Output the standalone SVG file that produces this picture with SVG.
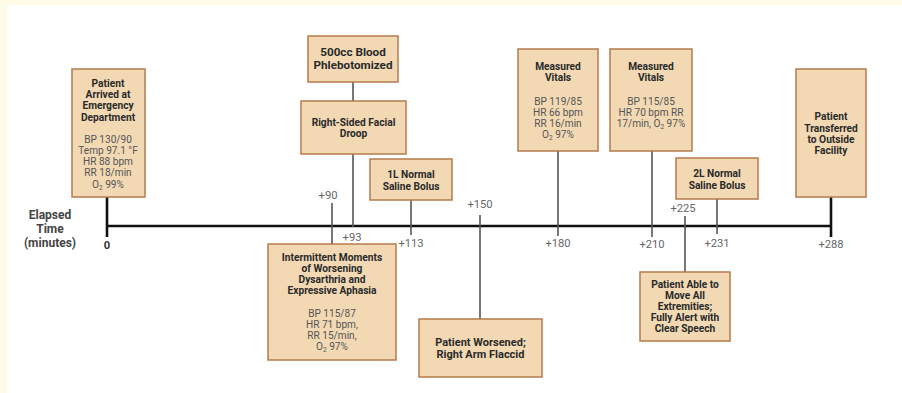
<svg xmlns="http://www.w3.org/2000/svg" width="902" height="393" viewBox="0 0 902 393">
<style>
.box{fill:#f2d9b4;stroke:#b57b4b;stroke-width:1.5}
.t{font-family:Roboto,"Liberation Sans",sans-serif;font-weight:bold;font-size:10.2px;fill:#2a2a2a;text-anchor:middle}
.big{font-size:11.7px}
.mid{font-size:11px}
.v{font-family:Roboto,"Liberation Sans",sans-serif;font-size:10.1px;fill:#555;text-anchor:middle}
.lbl{font-family:Roboto,"Liberation Sans",sans-serif;font-size:11.2px;fill:#666;text-anchor:middle}
.conn{stroke:#555;stroke-width:1.6;fill:none}
.axis{stroke:#111;stroke-width:2.6;fill:none}
.ax{font-family:Roboto,"Liberation Sans",sans-serif;font-weight:bold;font-size:12px;fill:#444;text-anchor:middle}
</style>
<rect x="0" y="0" width="902" height="393" fill="#ffffff"/>
<rect x="0" y="0" width="902" height="5" fill="#fffbe6"/>
<rect x="0" y="0" width="7" height="393" fill="#fffbe6"/>

<g id="connectors">
<line class="axis" x1="107" y1="226" x2="831" y2="226"/>
<line class="axis" x1="107" y1="197" x2="107" y2="237"/>
<line class="axis" x1="831" y1="197" x2="831" y2="237"/>
<line class="conn" x1="353" y1="82" x2="353" y2="101"/>
<line class="conn" x1="353" y1="154" x2="353" y2="227"/>
<line class="conn" x1="411" y1="200" x2="411" y2="235"/>
<line class="conn" x1="332" y1="203" x2="332" y2="244"/>
<line class="conn" x1="480" y1="215" x2="480" y2="319"/>
<line class="conn" x1="558" y1="151" x2="558" y2="236"/>
<line class="conn" x1="652" y1="151" x2="652" y2="237"/>
<line class="conn" x1="717" y1="199" x2="717" y2="234"/>
<line class="conn" x1="685" y1="216" x2="685" y2="272"/>
</g>

<g id="axis-labels">
<text class="ax" x="50" y="219">Elapsed</text>
<text class="ax" x="50" y="232.5">Time</text>
<text class="ax" x="50" y="246.5">(minutes)</text>
<text class="lbl" x="107" y="248.5" style="font-weight:bold;fill:#333">0</text>
<text class="lbl" x="328" y="199">+90</text>
<text class="lbl" x="352" y="240.5">+93</text>
<text class="lbl" x="411" y="246.5">+113</text>
<text class="lbl" x="480" y="208">+150</text>
<text class="lbl" x="558" y="247">+180</text>
<text class="lbl" x="652" y="248">+210</text>
<text class="lbl" x="683" y="212">+225</text>
<text class="lbl" x="717" y="247">+231</text>
<text class="lbl" x="831" y="248">+288</text>
</g>

<g id="n-arrived">
<rect class="box" x="72" y="69" width="73" height="128"/>
<text class="t" x="108" y="86.5">Patient</text>
<text class="t" x="108" y="97.5">Arrived at</text>
<text class="t" x="108" y="108.5">Emergency</text>
<text class="t" x="108" y="120.5">Department</text>
<text class="v" x="108" y="142.5">BP 130/90</text>
<text class="v" x="108" y="153.5">Temp 97.1 °F</text>
<text class="v" x="108" y="164.5">HR 88 bpm</text>
<text class="v" x="108" y="175.5">RR 18/min</text>
<text class="v" x="108" y="187.5">O<tspan font-size="6.5" dy="2">2</tspan><tspan dy="-2"> 99%</tspan></text>
</g>

<g id="n-phlebotomized">
<rect class="box" x="308" y="36" width="90" height="46"/>
<text class="t big" x="353" y="56">500cc Blood</text>
<text class="t big" x="353" y="69">Phlebotomized</text>
</g>

<g id="n-facial-droop">
<rect class="box" x="301" y="101" width="105" height="53"/>
<text class="t" x="353.5" y="125.5">Right-Sided Facial</text>
<text class="t" x="353.5" y="136.5">Droop</text>
</g>

<g id="n-1l-bolus">
<rect class="box" x="370" y="159" width="82" height="41"/>
<text class="t" x="411" y="177.5">1L Normal</text>
<text class="t" x="411" y="189.5">Saline Bolus</text>
</g>

<g id="n-intermittent">
<rect class="box" x="268" y="244" width="128" height="116"/>
<text class="t" x="332" y="260.5">Intermittent Moments</text>
<text class="t" x="332" y="271.5">of Worsening</text>
<text class="t" x="332" y="282.5">Dysarthria and</text>
<text class="t" x="332" y="293.5">Expressive Aphasia</text>
<text class="v" x="332" y="316.5">BP 115/87</text>
<text class="v" x="332" y="327.5">HR 71 bpm,</text>
<text class="v" x="332" y="338.5">RR 15/min,</text>
<text class="v" x="332" y="349.5">O<tspan font-size="6.5" dy="2">2</tspan><tspan dy="-2"> 97%</tspan></text>
</g>

<g id="n-worsened">
<rect class="box" x="419" y="319" width="123" height="58"/>
<text class="t mid" x="480.5" y="345.5">Patient Worsened;</text>
<text class="t mid" x="480.5" y="358">Right Arm Flaccid</text>
</g>

<g id="n-vitals-180">
<rect class="box" x="518" y="49" width="80" height="102"/>
<text class="t" x="558" y="69.5">Measured</text>
<text class="t" x="558" y="80.5">Vitals</text>
<text class="v" x="558" y="104.5">BP 119/85</text>
<text class="v" x="558" y="115.5">HR 66 bpm</text>
<text class="v" x="558" y="126.5">RR 16/min</text>
<text class="v" x="558" y="137.5">O<tspan font-size="6.5" dy="2">2</tspan><tspan dy="-2"> 97%</tspan></text>
</g>

<g id="n-vitals-210">
<rect class="box" x="610" y="49" width="82" height="102"/>
<text class="t" x="651" y="69.5">Measured</text>
<text class="t" x="651" y="80.5">Vitals</text>
<text class="v" x="651" y="104.5">BP 115/85</text>
<text class="v" x="651" y="115.5">HR 70 bpm RR</text>
<text class="v" x="651" y="126.5">17/min, O<tspan font-size="6.5" dy="2">2</tspan><tspan dy="-2"> 97%</tspan></text>
</g>

<g id="n-2l-bolus">
<rect class="box" x="676" y="158" width="82" height="41"/>
<text class="t" x="717" y="176.5">2L Normal</text>
<text class="t" x="717" y="188.5">Saline Bolus</text>
</g>

<g id="n-able">
<rect class="box" x="640" y="272" width="90" height="69"/>
<text class="t" x="685" y="287.5">Patient Able to</text>
<text class="t" x="685" y="298.5">Move All</text>
<text class="t" x="685" y="309.5">Extremities;</text>
<text class="t" x="685" y="320.5">Fully Alert with</text>
<text class="t" x="685" y="331.5">Clear Speech</text>
</g>

<g id="n-transferred">
<rect class="box" x="796" y="69" width="70" height="128"/>
<text class="t" x="831" y="119.5">Patient</text>
<text class="t" x="831" y="131.5">Transferred</text>
<text class="t" x="831" y="142.5">to Outside</text>
<text class="t" x="831" y="153.5">Facility</text>
</g>
</svg>
